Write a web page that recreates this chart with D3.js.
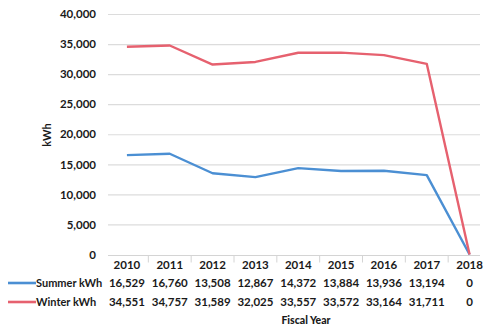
<!DOCTYPE html>
<html>
<head>
<meta charset="utf-8">
<script src="https://cdn.jsdelivr.net/npm/d3@7"></script>
<style>
  html, body { margin: 0; padding: 0; background: #fff; }
  svg { display: block; }
  text { font-family: Lato, "Open Sans", "DejaVu Sans", sans-serif; fill: #1a1a1a; }
</style>
</head>
<body>
<svg id="chart" width="485" height="334"></svg>
<script>
// Fiscal-year energy use, summer vs winter
const years = ["2010", "2011", "2012", "2013", "2014", "2015", "2016", "2017", "2018"];
const summerKwh = [16529, 16760, 13508, 12867, 14372, 13884, 13936, 13194, 0];
const winterKwh = [34551, 34757, 31589, 32025, 33557, 33572, 33164, 31711, 0];
const yTicks = [0, 5000, 10000, 15000, 20000, 25000, 30000, 35000, 40000];

const seriesList = [
  { name: "Summer kWh", values: summerKwh, color: "#4b8fd3" },
  { name: "Winter kWh", values: winterKwh, color: "#e6616f" }
];

const svg = d3.select("#chart");
const fmt = d3.format(",");
const FONT = "Lato, 'Open Sans', sans-serif";

const x = d3.scaleBand().domain(years).range([105.5, 491]);
const y = d3.scaleLinear().domain([0, 40000]).range([254.5, 14]);
const cx = d => x(d) + x.bandwidth() / 2;

// horizontal gridlines
const grid = svg.append("g")
  .attr("transform", "translate(108,0)")
  .call(d3.axisLeft(y).tickValues(yTicks.filter(t => t > 0)).tickSize(-372).tickFormat(""));
grid.select(".domain").remove();
grid.selectAll("line").attr("stroke", "#dcdcdc").attr("stroke-width", 1.2);

// y axis labels
const yAxis = svg.append("g")
  .attr("transform", "translate(96,0)")
  .call(d3.axisLeft(y).tickValues(yTicks).tickSize(0).tickPadding(0).tickFormat(fmt));
yAxis.select(".domain").remove();
yAxis.selectAll("text")
  .attr("font-size", 11.5).attr("font-weight", 700)
  .style("font-family", FONT).attr("fill", "#1a1a1a");

// y axis title
svg.append("text")
  .attr("transform", "translate(51,135) rotate(-90)")
  .attr("text-anchor", "middle")
  .attr("font-size", 11).attr("font-weight", 700)
  .text("kWh");

// baseline and table separators
svg.append("line")
  .attr("x1", 108).attr("x2", 480)
  .attr("y1", y(0) + 1).attr("y2", y(0) + 1)
  .attr("stroke", "#d4d4d4").attr("stroke-width", 1.2);
svg.append("g").selectAll("line")
  .data(years.slice(1))
  .join("line")
  .attr("x1", d => x(d)).attr("x2", d => x(d))
  .attr("y1", y(0) + 1).attr("y2", y(0) + 8)
  .attr("stroke", "#d4d4d4").attr("stroke-width", 1);

// series lines
const line = d3.line()
  .x((v, i) => cx(years[i]))
  .y(v => y(v));

svg.append("g").selectAll("path")
  .data(seriesList)
  .join("path")
  .attr("d", s => line(s.values))
  .attr("fill", "none")
  .attr("stroke", s => s.color)
  .attr("stroke-width", 2.4)
  .attr("stroke-linejoin", "round");

// data table: category row
svg.append("g").selectAll("text")
  .data(years)
  .join("text")
  .attr("x", d => cx(d)).attr("y", 269)
  .attr("text-anchor", "middle")
  .attr("font-size", 11.5).attr("font-weight", 700)
  .text(d => d);

// data table: series rows
const rowY = [287, 306];
seriesList.forEach((s, r) => {
  const g = svg.append("g");
  g.append("line")
    .attr("x1", 8).attr("x2", 36)
    .attr("y1", rowY[r] - 4).attr("y2", rowY[r] - 4)
    .attr("stroke", s.color).attr("stroke-width", 2.6);
  g.append("text")
    .attr("x", 36).attr("y", rowY[r])
    .attr("font-size", 11).attr("font-weight", 700)
    .text(s.name);
  g.selectAll("text.val")
    .data(s.values)
    .join("text")
    .attr("class", "val")
    .attr("x", (v, i) => cx(years[i])).attr("y", rowY[r])
    .attr("text-anchor", "middle")
    .attr("font-size", 11.5).attr("font-weight", 700)
    .text(v => fmt(v));
});

// x axis title
svg.append("text")
  .attr("x", 306).attr("y", 324)
  .attr("text-anchor", "middle")
  .attr("font-size", 10.5).attr("font-weight", 900)
  .text("Fiscal Year");
</script>
</body>
</html>
